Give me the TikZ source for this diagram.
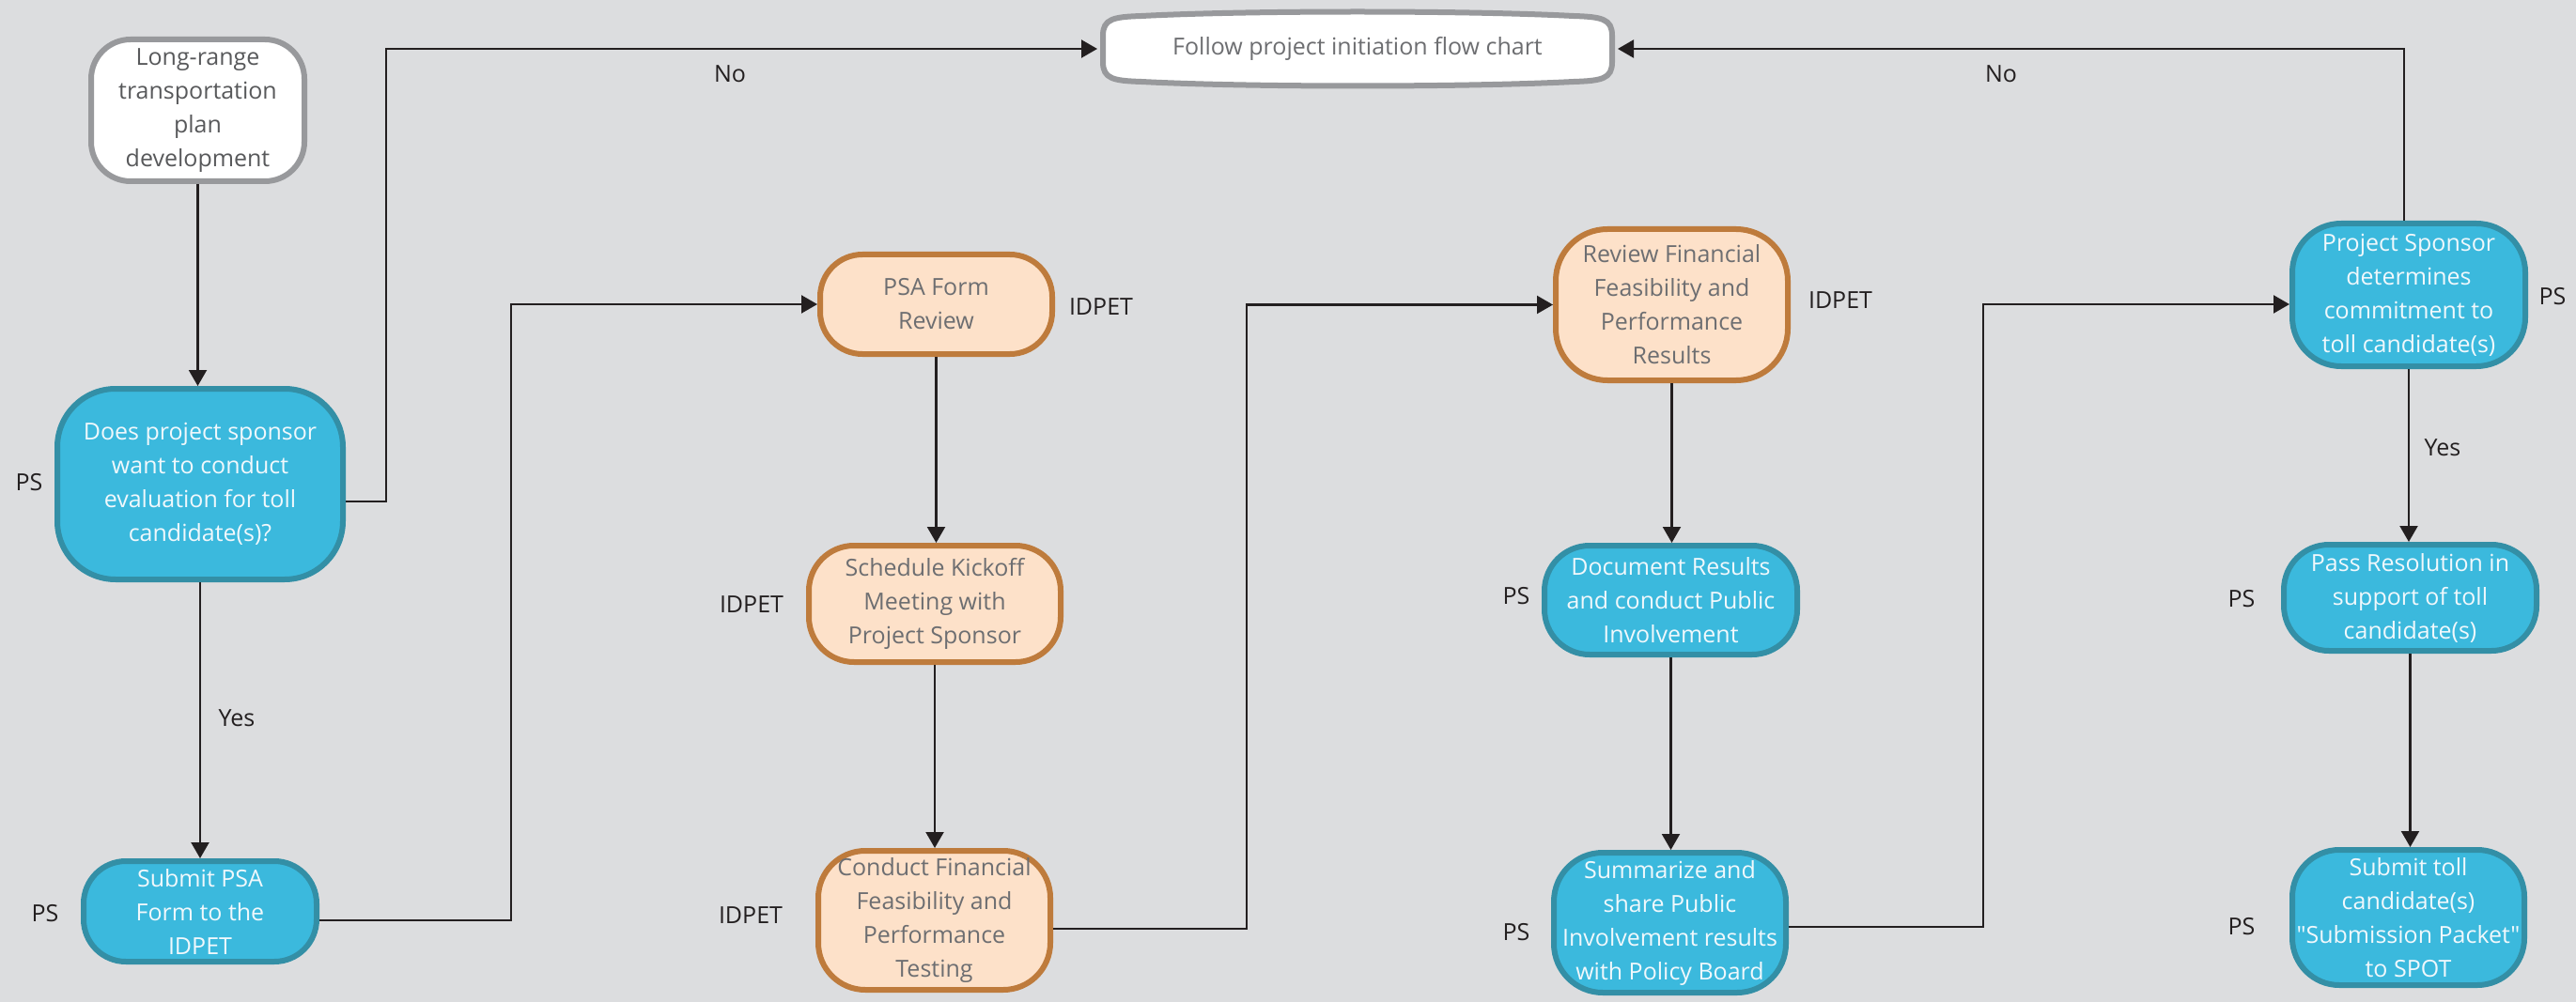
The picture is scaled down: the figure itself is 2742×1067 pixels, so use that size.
\documentclass[tikz,border=0pt]{standalone}
\usepackage{fontspec}
\setmainfont{Open Sans}[Ligatures=TeXOff]
\usetikzlibrary{arrows.meta}
\definecolor{bg}{HTML}{DCDDDF}
\definecolor{bfill}{HTML}{3BB9DD}
\definecolor{bdraw}{HTML}{338FA6}
\definecolor{btext}{HTML}{F0F8FC}
\definecolor{ofill}{HTML}{FDE1C9}
\definecolor{odraw}{HTML}{BE7B3C}
\definecolor{otext}{HTML}{6D6E71}
\definecolor{gdraw}{HTML}{98999C}
\definecolor{gtext}{HTML}{58595B}
\definecolor{lcol}{HTML}{231F20}
\newcommand{\boxfont}{\fontsize{25}{36}\selectfont}
\begin{document}
\begin{tikzpicture}[x=1pt,y=-1pt,
  base/.style={line width=6pt, inner sep=0pt, align=center, font=\boxfont},
  bluebox/.style={base, fill=bfill, draw=bdraw, text=btext},
  orangebox/.style={base, fill=ofill, draw=odraw, text=otext},
  graybox/.style={base, fill=white, draw=gdraw, text=gtext},
  lab/.style={font=\fontsize{25}{30}\selectfont, text=lcol, inner sep=0pt},
  conn/.style={line width=2.2pt, draw=lcol},
  arr/.style={conn, -{Triangle[length=17pt,width=19pt]}}
]
\fill[bg] (0,0) rectangle (2742,1067);
\useasboundingbox (0,0) rectangle (2742,1067);

% terminator shape
\draw[line width=6pt, draw=gdraw, fill=white]
  (1174,38) -- (1174,66)
  .. controls (1174,84) and (1185,86) .. (1215,87)
  .. controls (1330,93) and (1560,93) .. (1675,87)
  .. controls (1705,86) and (1716,84) .. (1716,66)
  -- (1716,38)
  .. controls (1716,20) and (1705,18) .. (1675,17)
  .. controls (1560,11) and (1330,11) .. (1215,17)
  .. controls (1185,18) and (1174,20) .. (1174,38) -- cycle;
\node[base, text=otext, minimum width=548pt, minimum height=80pt] (FOL) at (1445,52) {Follow project initiation flow chart};

\node[graybox, rounded corners=42pt, minimum width=227pt, minimum height=151pt] (LR) at (210.5,117.5)
  {Long-range\\transportation\\plan\\development};
\node[bluebox, rounded corners=62pt, minimum width=304pt, minimum height=203pt] (Q) at (213,515.5)
  {Does project sponsor\\want to conduct\\evaluation for toll\\candidate(s)?};
\node[bluebox, rounded corners=45pt, minimum width=248pt, minimum height=107pt] (SUB) at (213,970.5)
  {Submit PSA\\Form to the\\IDPET};

\node[orangebox, rounded corners=45pt, minimum width=247pt, minimum height=106pt] (PSA) at (996.5,324)
  {PSA Form\\Review};
\node[orangebox, rounded corners=48pt, minimum width=268pt, minimum height=124pt] (SKM) at (995,643)
  {Schedule Kickoff\\Meeting with\\Project Sponsor};
\node[orangebox, rounded corners=50pt, minimum width=247pt, minimum height=148pt] (CFF) at (994.5,980)
  {Conduct Financial\\Feasibility and\\Performance\\Testing};

\node[orangebox, rounded corners=55pt, minimum width=247pt, minimum height=161pt] (RFF) at (1779.5,324.5)
  {Review Financial\\Feasibility and\\Performance\\Results};
\node[bluebox, rounded corners=48pt, minimum width=269pt, minimum height=116pt] (DOC) at (1778.5,639)
  {Document Results\\and conduct Public\\Involvement};
\node[bluebox, rounded corners=52pt, minimum width=247pt, minimum height=149pt] (SUM) at (1777.5,982.5)
  {Summarize and\\share Public\\Involvement results\\with Policy Board};

\node[bluebox, rounded corners=52pt, minimum width=248pt, minimum height=152pt] (PSD) at (2564,314)
  {Project Sponsor\\determines\\commitment to\\toll candidate(s)};
\node[bluebox, rounded corners=48pt, minimum width=269pt, minimum height=113pt] (PR) at (2565.5,636.5)
  {Pass Resolution in\\support of toll\\candidate(s)};
\node[bluebox, rounded corners=50pt, minimum width=247pt, minimum height=144pt] (ST) at (2563.5,977)
  {Submit toll\\candidate(s)\\"Submission Packet"\\to SPOT};

% side labels
\node[lab] (l1) at (31,514) {PS};
\node[lab] (l2) at (48,973) {PS};
\node[lab] (l3) at (252,765) {Yes};
\node[lab] (l4) at (777,79) {No};
\node[lab] (l5) at (1172,327) {IDPET};
\node[lab] (l6) at (800,644) {IDPET};
\node[lab] (l7) at (799,975) {IDPET};
\node[lab] (l8) at (1959,320) {IDPET};
\node[lab] (l9) at (1614,635) {PS};
\node[lab] (l10) at (1614,993) {PS};
\node[lab] (l11) at (2130,79) {No};
\node[lab] (l12) at (2717,316) {PS};
\node[lab] (l13) at (2600,477) {Yes};
\node[lab] (l14) at (2386,638) {PS};
\node[lab] (l15) at (2386,987) {PS};

% bend coordinates
\coordinate (xA) at (411,0);
\coordinate (xB) at (544,0);
\coordinate (xC) at (1327,0);
\coordinate (xD) at (2111,0);

% connectors
\draw[arr] (LR) -- (LR |- Q.north);
\draw[arr] (Q) -- (Q |- SUB.north);
\draw[arr] (Q.east |- 0,534) -| (xA |- FOL.west) -- (FOL.west);
\draw[arr] (SUB.east |- 0,980) -| (xB |- PSA.west) -- (PSA.west);
\draw[arr] (PSA) -- (PSA |- SKM.north);
\draw[arr] (SKM) -- (SKM |- CFF.north);
\draw[arr] (CFF.east |- 0,989) -| (xC |- RFF.west) -- (RFF.west);
\draw[arr] (RFF) -- (RFF |- DOC.north);
\draw[arr] (DOC) -- (DOC |- SUM.north);
\draw[arr] (SUM.east |- 0,987) -| (xD |- 0,324) -- (PSD.west |- 0,324);
\draw[arr] ([xshift=-5pt]PSD.north) |- (FOL.east);
\draw[arr] (PSD) -- (PSD |- PR.north);
\draw[arr] (PR) -- (PR |- ST.north);
\end{tikzpicture}
\end{document}
